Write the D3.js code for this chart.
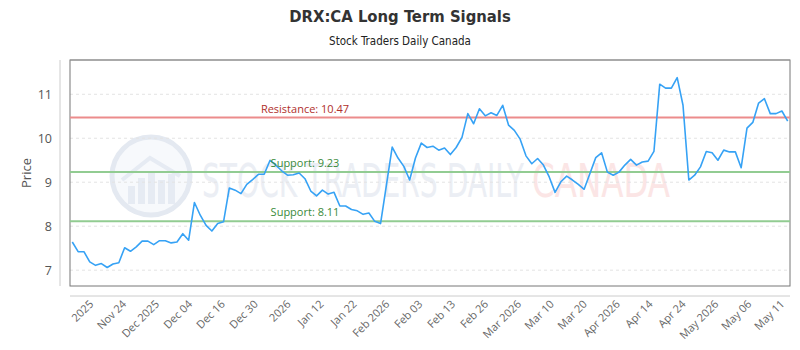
<!DOCTYPE html>
<html>
<head>
<meta charset="utf-8">
<script src="https://cdn.jsdelivr.net/npm/d3@7"></script>
<style>
  html, body { margin: 0; padding: 0; background: #fff; }
  svg { display: block; }
</style>
</head>
<body>
<svg id="chart" width="800" height="350"></svg>
<script>
// ---- data ----
const prices = [
  7.64, 7.42, 7.42, 7.19, 7.11, 7.15, 7.06, 7.14, 7.17, 7.51,
  7.43, 7.53, 7.66, 7.66, 7.58, 7.67, 7.67, 7.62, 7.64, 7.83,
  7.68, 8.54, 8.25, 8.02, 7.89, 8.06, 8.10, 8.87, 8.82, 8.74,
  8.95, 9.06, 9.18, 9.18, 9.50, 9.39, 9.26, 9.16, 9.17, 9.21,
  9.08, 8.80, 8.69, 8.82, 8.73, 8.77, 8.46, 8.46, 8.38, 8.35,
  8.27, 8.30, 8.11, 8.06, 8.93, 9.80, 9.55, 9.36, 9.05, 9.55,
  9.89, 9.79, 9.82, 9.73, 9.78, 9.63, 9.79, 10.02, 10.56, 10.33,
  10.67, 10.51, 10.58, 10.52, 10.75, 10.30, 10.18, 9.98, 9.60, 9.42,
  9.54, 9.39, 9.12, 8.77, 9.01, 9.14, 9.05, 8.95, 8.84, 9.20,
  9.56, 9.67, 9.23, 9.16, 9.23, 9.39, 9.52, 9.39, 9.46, 9.48,
  9.70, 11.23, 11.14, 11.14, 11.38, 10.75, 9.05, 9.16, 9.35, 9.70,
  9.67, 9.50, 9.73, 9.69, 9.69, 9.33, 10.23, 10.36, 10.80, 10.90,
  10.56, 10.56, 10.62, 10.39
];
const xLabels = ["2025", "Nov 24", "Dec 2025", "Dec 04", "Dec 16", "Dec 30", "2026",
  "Jan 12", "Jan 22", "Feb 2026", "Feb 03", "Feb 13", "Feb 26", "Mar 2026", "Mar 10",
  "Mar 20", "Apr 2026", "Apr 14", "Apr 24", "May 2026", "May 06", "May 11"];
const yTicks = [7, 8, 9, 10, 11];
const levelNames = ["Resistance", "Support", "Support"];
const levelValues = [10.47, 9.23, 8.11];
const levelKinds = ["res", "sup", "sup"];
const titleText = "DRX:CA Long Term Signals";
const subtitleText = "Stock Traders Daily Canada";
const yTitle = "Price";

// ---- layout ----
const svg = d3.select("#chart");
const plot = { left: 70, right: 790, top: 60, bottom: 286 };

const x = d3.scaleLinear().domain([0, prices.length - 1]).range([plot.left + 2.3, plot.right - 2.3]);
const y = d3.scaleLinear().domain([6.64, 11.78]).range([plot.bottom, plot.top]);
const xl = d3.scalePoint().domain(xLabels).range([x(3.2), x(122.0)]);

// title
svg.append("text").attr("x", 400).attr("y", 22).attr("text-anchor", "middle")
  .attr("font-family", "'DejaVu Sans Condensed', 'DejaVu Sans', sans-serif")
  .attr("font-weight", "bold").attr("font-size", 16.5).attr("fill", "#333")
  .text(titleText);
svg.append("text").attr("x", 400).attr("y", 45).attr("text-anchor", "middle")
  .attr("font-family", "'DejaVu Sans Condensed', 'DejaVu Sans', sans-serif")
  .attr("font-size", 11.5).attr("fill", "#222")
  .text(subtitleText);

// watermark
const wm = svg.append("g").attr("class", "watermark");
wm.append("circle").attr("cx", 151).attr("cy", 176).attr("r", 39)
  .attr("fill", "#f7f9fc").attr("stroke", "#e4e9f1").attr("stroke-width", 5);
const wmBars = [[128, 18], [138, 26], [148, 32], [158, 24], [168, 30]];
wmBars.forEach(b => {
  wm.append("rect").attr("x", b[0]).attr("y", 204 - b[1]).attr("width", 7).attr("height", b[1])
    .attr("fill", "#e6ebf3");
});
wm.append("path").attr("d", "M122,180 L150,158 L180,176")
  .attr("fill", "none").attr("stroke", "#e6ebf3").attr("stroke-width", 4);
wm.append("text").attr("x", 202).attr("y", 197)
  .attr("font-family", "'DejaVu Sans Condensed', 'Liberation Sans Narrow', sans-serif")
  .attr("font-size", 46).attr("fill", "#ebeef4")
  .attr("textLength", 322).attr("lengthAdjust", "spacingAndGlyphs")
  .text("STOCK TRADERS DAILY");
wm.append("text").attr("x", 532).attr("y", 197)
  .attr("font-family", "'DejaVu Sans Condensed', 'Liberation Sans Narrow', sans-serif")
  .attr("font-size", 46).attr("fill", "#fbe5e5")
  .attr("textLength", 138).attr("lengthAdjust", "spacingAndGlyphs")
  .text("CANADA");

// grid
svg.append("g").selectAll("line").data(yTicks).join("line")
  .attr("x1", plot.left).attr("x2", plot.right)
  .attr("y1", d => y(d)).attr("y2", d => y(d))
  .attr("stroke", "#e3e3e3").attr("stroke-width", 1).attr("stroke-dasharray", "3,3");

// y axis (offset)
const yAxis = d3.axisLeft(y).tickValues(yTicks).tickSize(0).tickPadding(8).tickFormat(d3.format("d"));
const gy = svg.append("g").attr("transform", `translate(${plot.left - 10},0)`).call(yAxis);
gy.select(".domain").attr("stroke", "#ccc").attr("d", `M0,${plot.top}V${plot.bottom}`);
gy.selectAll("text").attr("font-family", "'Open Sans', sans-serif").attr("font-size", 12.5).attr("fill", "#555");

svg.append("text").attr("transform", `translate(31,${(plot.top + plot.bottom) / 2}) rotate(-90)`)
  .attr("text-anchor", "middle")
  .attr("font-family", "'Open Sans', sans-serif").attr("font-size", 13).attr("fill", "#555")
  .text(yTitle);

// x axis (offset)
const xAxis = d3.axisBottom(xl).tickSize(0).tickPadding(0);
const gx = svg.append("g").attr("transform", `translate(0,${plot.bottom + 10})`).call(xAxis);
gx.select(".domain").attr("stroke", "#ccc").attr("d", `M${plot.left},0H${plot.right}`);
gx.selectAll("text")
  .attr("font-family", "'Open Sans', sans-serif").attr("font-size", 11).attr("fill", "#666")
  .attr("text-anchor", "end").attr("dy", "0.35em").attr("y", 0).attr("x", 0)
  .attr("transform", "translate(0,6) rotate(-45)");

// plot frame
svg.append("rect").attr("x", plot.left).attr("y", plot.top)
  .attr("width", plot.right - plot.left).attr("height", plot.bottom - plot.top)
  .attr("fill", "none").attr("stroke", "#777").attr("stroke-width", 1);
svg.append("line").attr("x1", plot.left).attr("x2", plot.right)
  .attr("y1", plot.top).attr("y2", plot.top).attr("stroke", "#999");

// level lines
const levels = levelValues.map((v, i) => ({ name: levelNames[i], value: v, kind: levelKinds[i] }));
const lineColor = { res: "#ec8c8c", sup: "#92cc92" };
const textColor = { res: "#b0302c", sup: "#3a8a3a" };
svg.append("g").selectAll("line").data(levels).join("line")
  .attr("x1", plot.left).attr("x2", plot.right)
  .attr("y1", d => y(d.value)).attr("y2", d => y(d.value))
  .attr("stroke", d => lineColor[d.kind]).attr("stroke-width", 2);

// price line
const line = d3.line().x((d, i) => x(i)).y(d => y(d));
svg.append("path").datum(prices).attr("d", line)
  .attr("fill", "none").attr("stroke", "#36a2f5").attr("stroke-width", 1.6)
  .attr("stroke-linejoin", "round");

// level labels
svg.append("g").selectAll("text").data(levels).join("text")
  .attr("x", 305).attr("y", d => y(d.value) - 5)
  .attr("text-anchor", "middle")
  .attr("font-family", "'Open Sans', sans-serif").attr("font-size", 11)
  .attr("fill", d => textColor[d.kind])
  .text(d => `${d.name}: ${d.value.toFixed(2)}`);
</script>
</body>
</html>
